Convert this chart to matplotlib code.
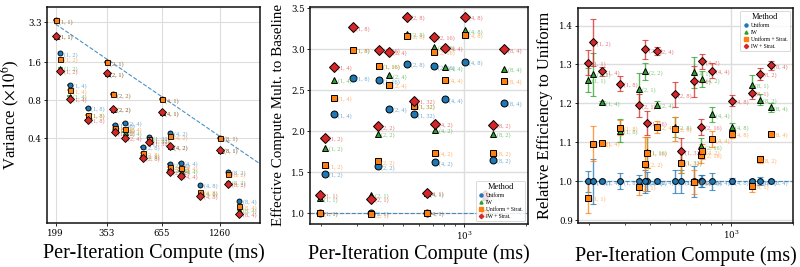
import matplotlib
matplotlib.use("Agg")
import matplotlib.pyplot as plt
from matplotlib.lines import Line2D
from matplotlib.ticker import FixedLocator, NullLocator, LogLocator

plt.rcParams['font.family'] = ['Liberation Serif', 'DejaVu Serif']
plt.rcParams['mathtext.fontset'] = 'stix'

# configs (a, b) and per-iteration compute (ms)
configs = ["(1, 1)", "(1, 2)", "(1, 4)", "(1, 8)", "(1, 16)", "(1, 32)",
           "(2, 1)", "(2, 2)", "(2, 4)", "(2, 8)", "(2, 16)",
           "(4, 1)", "(4, 2)", "(4, 4)", "(4, 8)",
           "(8, 1)", "(8, 2)", "(8, 4)"]
compute = [199, 210, 233, 286, 386, 570, 353, 379, 431, 528, 714,
           655, 720, 809, 1008, 1260, 1383, 1564]
compute_err = [6, 6, 7, 9, 12, 17, 11, 11, 13, 16, 21, 20, 22, 24, 30, 38, 41, 47]

methods = ["Uniform", "IW", "Uniform + Strat.", "IW + Strat."]
colors = ["#1f77b4", "#2ca02c", "#ff7f0e", "#d62728"]
markers = ["o", "^", "s", "D"]

# panel 1: variance (x1e6)
var_uniform = [3.42, 1.88, 1.05, 0.695, 0.511, 0.405, 1.59, 0.888, 0.527, 0.341, 0.248,
               0.81, 0.441, 0.256, 0.17, 0.40, 0.217, 0.128]
var_iw = [2.58, 1.44, 0.86, 0.61, 0.463, 0.38, 1.30, 0.683, 0.444, 0.29, 0.225,
          0.64, 0.343, 0.22, 0.147, 0.323, 0.179, 0.108]
var_ustrat = [3.42, 1.69, 0.955, 0.61, 0.478, 0.39, 1.59, 0.888, 0.472, 0.302, 0.235,
              0.81, 0.412, 0.233, 0.15, 0.40, 0.207, 0.115]
var_iwstrat = [2.58, 1.37, 0.82, 0.557, 0.444, 0.37, 1.30, 0.683, 0.40, 0.277, 0.217,
               0.64, 0.343, 0.20, 0.14, 0.323, 0.174, 0.100]
ref_x = [199, 1970]
ref_y = [3.2, 0.25]

# panel 2: effective compute multiplier
mult_uniform = [1.0, 1.478, 2.205, 2.654, 2.62, 2.205, 1.0, 1.57, 2.275, 2.82, 2.79,
                1.0, 1.62, 2.39, 2.85, 1.0, 1.65, 2.35]
mult_iw = [1.18, 1.797, 2.626, 2.99, 2.80, 2.31, 1.225, 1.97, 2.68, 3.185, 3.03,
           1.24, 2.02, 2.78, 3.23, 1.20, 1.97, 2.765]
mult_ustrat = [1.0, 1.584, 2.405, 2.99, 2.80, 2.307, 0.985, 1.63, 2.565, 3.165, 2.97,
               1.0, 1.735, 2.625, 3.18, 1.0, 1.735, 2.61]
mult_iwstrat = [1.225, 1.915, 2.785, 3.267, 2.99, 2.37, 1.176, 2.06, 2.97, 3.40, 3.15,
                1.245, 2.09, 3.02, 3.40, 1.22, 2.08, 3.0]

# panel 3: relative efficiency to uniform (mean, err)
eff_uniform = [1.0] * 18
eff_uniform_err = [0.027, 0.058, 0.005, 0.02, 0.025, 0.03, 0.015, 0.03, 0.005, 0.03, 0.015,
                   0.04, 0.015, 0.022, 0.008, 0.005, 0.01, 0.005]
eff_iw = [1.26, 1.275, 1.203, 1.13, 1.075, 1.05, 1.237, 1.282, 1.197, 1.14, 1.09,
          1.28, 1.262, 1.172, 1.14, 1.247, 1.21, 1.19]
eff_iw_err = [0.03, 0.055, 0.003, 0.03, 0.04, 0.03, 0.04, 0.022, 0.01, 0.025, 0.02,
              0.04, 0.02, 0.02, 0.01, 0.025, 0.015, 0.012]
eff_ustrat = [0.958, 1.096, 1.098, 1.138, 1.073, 1.047, 0.985, 1.045, 1.14, 1.134, 1.068,
              0.998, 1.077, 1.108, 1.121, 0.988, 1.056, 1.121]
eff_ustrat_err = [0.04, 0.045, 0.005, 0.02, 0.04, 0.025, 0.02, 0.07, 0.015, 0.03, 0.02,
                  0.03, 0.02, 0.02, 0.01, 0.015, 0.01, 0.008]
eff_iwstrat = [1.305, 1.357, 1.282, 1.251, 1.15, 1.077, 1.195, 1.339, 1.335, 1.223, 1.139,
               1.257, 1.308, 1.284, 1.207, 1.227, 1.276, 1.298]
eff_iwstrat_err = [0.033, 0.06, 0.012, 0.02, 0.03, 0.035, 0.03, 0.025, 0.01, 0.033, 0.02,
                   0.04, 0.02, 0.02, 0.014, 0.015, 0.015, 0.012]

var_all = [var_uniform, var_iw, var_ustrat, var_iwstrat]
mult_all = [mult_uniform, mult_iw, mult_ustrat, mult_iwstrat]
eff_all = [eff_uniform, eff_iw, eff_ustrat, eff_iwstrat]
eff_err_all = [eff_uniform_err, eff_iw_err, eff_ustrat_err, eff_iwstrat_err]

fig = plt.figure(figsize=(8, 2.67), dpi=100)
ax1 = fig.add_axes([0.059, 0.165, 0.266, 0.81])
ax2 = fig.add_axes([0.388, 0.162, 0.272, 0.813])
ax3 = fig.add_axes([0.723, 0.165, 0.268, 0.805])


def label_points(ax, xs, ys, color):
    for x, y, lab in zip(xs, ys, configs):
        ax.annotate(lab, (x, y), xytext=(2.5, -1), textcoords="offset points",
                    fontsize=4.5, color=color, alpha=0.65, va="center")


# ---- panel 1
ax1.plot(ref_x, ref_y, ls="--", color=colors[0], lw=0.8, alpha=0.8, zorder=1)
for ys, c, m in zip(var_all, colors, markers):
    ax1.errorbar(compute, ys, xerr=compute_err, fmt=m, color=c, ms=3.6,
                 mec="black", mew=0.6, elinewidth=1.1, capsize=0, zorder=3)
    label_points(ax1, compute, ys, c)
ax1.set_xscale("log")
ax1.set_yscale("log")
ax1.set_xlim(181, 1970)
ax1.set_ylim(0.085, 4.4)
ax1.xaxis.set_major_locator(FixedLocator([199, 353, 655, 1260]))
ax1.xaxis.set_minor_locator(NullLocator())
ax1.set_xticklabels(["199", "353", "655", "1260"])
ax1.yaxis.set_major_locator(FixedLocator([0.4, 0.8, 1.6, 3.3]))
ax1.yaxis.set_minor_locator(NullLocator())
ax1.set_yticklabels(["0.4", "0.8", "1.6", "3.3"])
ax1.grid(True, color="#dddddd", lw=0.8)
ax1.set_axisbelow(True)
ax1.set_ylabel(r"Variance ($\times 10^6$)", fontsize=12, labelpad=4)
ax1.set_xlabel("Per-Iteration Compute (ms)", fontsize=14.5, labelpad=4)

# ---- panel 2
ax2.axhline(1.0, ls="--", color=colors[0], lw=0.8, alpha=0.8, zorder=1)
for ys, c, m in zip(mult_all, colors, markers):
    ax2.plot(compute, ys, m, color=c, ms=5, mec="black", mew=0.7, zorder=3)
    label_points(ax2, compute, ys, c)
ax2.set_xscale("log")
ax2.set_xlim(178, 2040)
ax2.set_ylim(0.87, 3.52)
ax2.set_yticks([1.0, 1.5, 2.0, 2.5, 3.0, 3.5])
ax2.grid(True, which="major", color="#dddddd", lw=1.0)
ax2.set_axisbelow(True)
ax2.set_ylabel("Effective Compute Mult. to Baseline", fontsize=10.8, labelpad=4)
ax2.set_xlabel("Per-Iteration Compute (ms)", fontsize=14.5, labelpad=2)

# ---- panel 3
ax3.axhline(1.0, ls="--", color=colors[0], lw=0.8, alpha=0.8, zorder=1)
for ys, es, c, m in zip(eff_all, eff_err_all, colors, markers):
    ax3.errorbar(compute, ys, yerr=es, fmt="none", ecolor=c, elinewidth=1.0,
                 capsize=2.2, capthick=0.8, alpha=0.75, zorder=2)
    ax3.plot(compute, ys, m, color=c, ms=4.2, mec="black", mew=0.7, zorder=3)
    label_points(ax3, compute, ys, c)
ax3.set_xscale("log")
ax3.set_xlim(178, 2005)
ax3.set_ylim(0.893, 1.445)
ax3.set_yticks([0.9, 1.0, 1.1, 1.2, 1.3, 1.4])
ax3.grid(True, which="major", color="#dddddd", lw=1.0)
ax3.set_axisbelow(True)
ax3.set_ylabel("Relative Efficiency to Uniform", fontsize=12, labelpad=4)
ax3.set_xlabel("Per-Iteration Compute (ms)", fontsize=14.5, labelpad=4)

for ax in (ax2, ax3):
    ax.xaxis.set_major_locator(LogLocator(base=10))
for ax in (ax1, ax2, ax3):
    for t in ax.get_xticklabels() + ax.get_yticklabels():
        t.set_fontfamily("DejaVu Serif")
        t.set_fontsize(6.2)
    ax.tick_params(length=2, width=0.6, pad=2)
    ax.tick_params(which="minor", length=1.5, width=0.5)
    for s in ax.spines.values():
        s.set_linewidth(1.1)
        s.set_color("#111111")

handles = [Line2D([], [], ls="", marker=m, color=c, ms=2.2) for m, c in zip(markers, colors)]
for ax, loc in ((ax2, "lower right"), (ax3, "upper right")):
    leg = ax.legend(handles, methods, title="Method", loc=loc, fontsize=4,
                    title_fontsize=6, framealpha=0.85, borderpad=0.4,
                    labelspacing=0.35, handletextpad=0.3, handlelength=1.2)
    leg.get_frame().set_linewidth(0.6)

fig.savefig("out.png", dpi=100)
